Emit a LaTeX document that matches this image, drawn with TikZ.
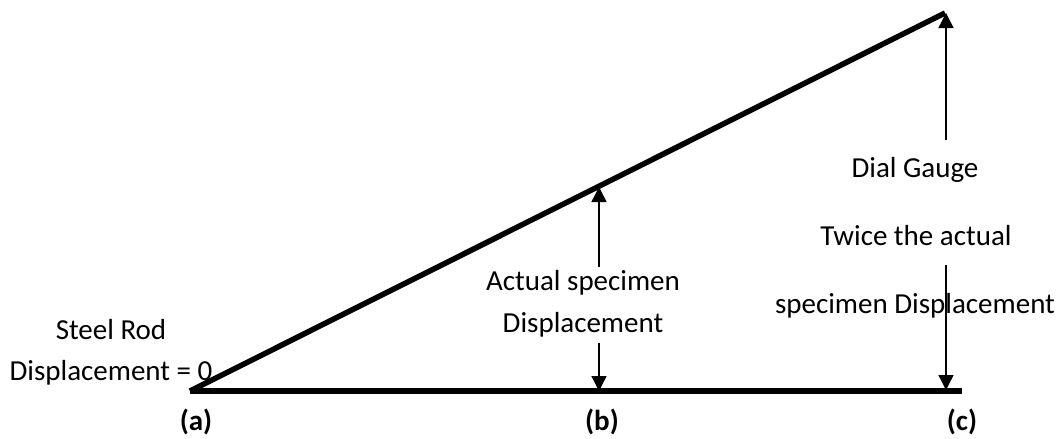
\documentclass[tikz,border=0pt]{standalone}
\usepackage{fontspec}
\setmainfont{Carlito}
\usetikzlibrary{arrows.meta}
\tikzset{
  beam/.style={line width=5.5pt, line cap=butt},
  dimarrow/.style={line width=1.4pt, -{Triangle[length=15pt,width=15pt]}},
  lbl/.style={inner sep=0pt, anchor=base, font=\fontsize{29}{34}\selectfont},
  plbl/.style={lbl, font=\fontsize{29}{34}\selectfont\bfseries}
}
\begin{document}
\begin{tikzpicture}[x=1pt, y=-1pt]
\useasboundingbox (0,0) rectangle (1063,439);
% main geometry
\coordinate (A) at (190,391);
\coordinate (C) at (962,391);
\coordinate (T) at (945,13);
\coordinate (Bt) at (599,187);
\coordinate (Bb) at (599,391);
\coordinate (Ct) at (946,13);
\coordinate (Cb) at (946,390);
\coordinate (Bu) at (599,267);
\coordinate (Bd) at (599,343);
\coordinate (Cu) at (946,140);
\coordinate (Cd) at (946,265);
\draw[beam] (A) -- (C);
\draw[beam] (A) -- (T);
% arrows
\draw[dimarrow] (Bu) -- (Bt);
\draw[dimarrow] (Bd) -- (Bb);
\draw[dimarrow] (Cu) -- (Ct);
\draw[dimarrow] (Cd) -- (Cb);
% labels
\node[lbl] (steel) at (111,339) {Steel Rod};
\node[lbl] (zero) at (111,380) {Displacement = 0};
\node[lbl] (act1) at (583,290) {Actual specimen};
\node[lbl] (act2) at (583,332) {Displacement};
\node[lbl] (dial) at (915,177) {Dial Gauge};
\node[lbl] (tw1) at (916,245) {Twice the actual};
\node[lbl] (tw2) at (915,313) {specimen Displacement};
\node[plbl] (pa) at (196,430) {(a)};
\node[plbl] (pb) at (602,430) {(b)};
\node[plbl] (pc) at (962,430) {(c)};
\end{tikzpicture}
\end{document}
